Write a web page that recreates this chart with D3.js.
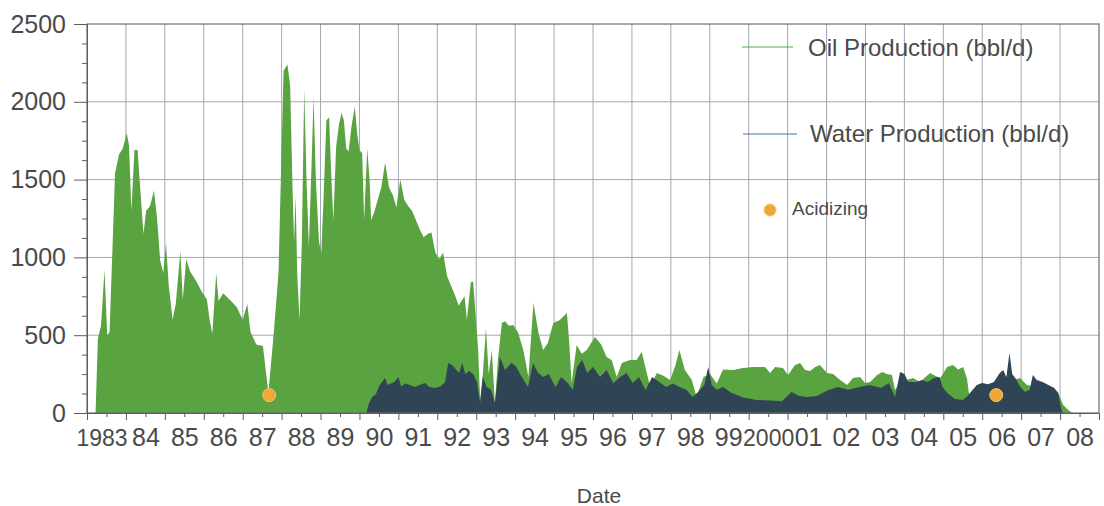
<!DOCTYPE html>
<html>
<head>
<meta charset="utf-8">
<script src="https://cdn.jsdelivr.net/npm/d3@7"></script>
<style>
  html, body { margin: 0; padding: 0; background: #fff; }
  svg { display: block; font-family: "Liberation Sans", Arial, sans-serif; }
</style>
</head>
<body>
<svg id="chart" width="1104" height="506"></svg>
<script>
// Oil rate history (decimal year, bbl/d)
const oilYears = [
  1983.22, 1983.28, 1983.36, 1983.45, 1983.52, 1983.58, 1983.66, 1983.72, 1983.82, 1983.92,
  1984.02, 1984.08, 1984.14, 1984.22, 1984.30, 1984.38, 1984.45, 1984.52, 1984.62, 1984.72,
  1984.80, 1984.88, 1984.96, 1985.03, 1985.10, 1985.20, 1985.28, 1985.40, 1985.46, 1985.55,
  1985.65, 1985.80, 1985.95, 1986.08, 1986.15, 1986.22, 1986.32, 1986.38, 1986.50, 1986.70,
  1986.85, 1987.00, 1987.12, 1987.20, 1987.35, 1987.52, 1987.58, 1987.66, 1987.80, 1987.92,
  1987.98, 1988.05, 1988.15, 1988.22, 1988.28, 1988.32, 1988.36, 1988.40, 1988.46, 1988.52,
  1988.58, 1988.64, 1988.70, 1988.77, 1988.82, 1988.88, 1988.96, 1989.02, 1989.08, 1989.15,
  1989.22, 1989.28, 1989.33, 1989.40, 1989.47, 1989.54, 1989.60, 1989.66, 1989.72, 1989.80,
  1989.88, 1989.94, 1990.00, 1990.07, 1990.12, 1990.20, 1990.26, 1990.30, 1990.38, 1990.48,
  1990.56, 1990.66, 1990.76, 1990.86, 1990.95, 1991.05, 1991.15, 1991.25, 1991.35, 1991.45,
  1991.55, 1991.65, 1991.75, 1991.85, 1991.95, 1992.05, 1992.15, 1992.25, 1992.35, 1992.45,
  1992.55, 1992.62, 1992.70, 1992.76, 1992.86, 1992.92, 1993.05, 1993.10, 1993.17, 1993.25,
  1993.32, 1993.40, 1993.48, 1993.56, 1993.66, 1993.74, 1993.84, 1993.95, 1994.07, 1994.21,
  1994.34, 1994.47, 1994.60, 1994.72, 1994.84, 1994.98, 1995.15, 1995.33, 1995.39, 1995.45,
  1995.58, 1995.71, 1995.84, 1996.05, 1996.21, 1996.35, 1996.48, 1996.61, 1996.74, 1996.95,
  1997.12, 1997.25, 1997.34, 1997.47, 1997.64, 1997.81, 1997.98, 1998.11, 1998.22, 1998.36,
  1998.54, 1998.66, 1998.84, 1999.01, 1999.18, 1999.34, 1999.60, 1999.86, 2000.11, 2000.42,
  2000.55, 2000.68, 2000.88, 2001.01, 2001.19, 2001.32, 2001.45, 2001.58, 2001.71, 2001.83,
  2002.01, 2002.17, 2002.35, 2002.53, 2002.68, 2002.86, 2002.99, 2003.12, 2003.30, 2003.43,
  2003.55, 2003.68, 2003.76, 2003.89, 2004.22, 2004.40, 2004.66, 2004.79, 2004.92, 2005.10,
  2005.25, 2005.38, 2005.51, 2005.61, 2005.69, 2005.82, 2006.20, 2006.59, 2006.79, 2006.97,
  2007.15, 2007.36, 2007.61, 2007.95, 2008.08, 2008.21, 2008.31
];
const oilRates = [
  0, 480, 560, 920, 500, 520, 1100, 1540, 1660, 1700,
  1800, 1720, 1300, 1690, 1690, 1400, 1150, 1300, 1330, 1430,
  1250, 980, 900, 1090, 820, 600, 700, 1040, 730, 990,
  910, 850, 780, 730, 600, 510, 900, 720, 770, 720,
  680, 600, 700, 520, 440, 430, 300, 130, 520, 900,
  1500, 2200, 2240, 2100, 1450, 1100, 1400, 900, 600, 1100,
  2080, 1500, 1070, 1600, 2030, 1500, 1100, 1030, 1400, 1880,
  1900, 1500, 1240, 1710, 1850, 1930, 1880, 1700, 1680, 1850,
  1970, 1800, 1690, 1670, 1240, 1700, 1500, 1240, 1290, 1380,
  1450, 1610, 1450, 1400, 1320, 1500, 1370, 1330, 1300, 1240,
  1180, 1130, 1150, 1160, 1030, 990, 1030, 880, 820, 760,
  690, 720, 750, 600, 840, 845, 405, 84, 250, 546,
  250, 405, 64, 350, 578, 590, 560, 566, 520, 405,
  231, 707, 514, 405, 450, 578, 598, 643, 450, 193,
  437, 380, 405, 488, 440, 360, 340, 231, 321, 341,
  341, 392, 300, 167, 257, 240, 212, 300, 405, 276,
  212, 103, 231, 250, 190, 280, 276, 289, 296, 296,
  257, 296, 289, 244, 308, 321, 276, 270, 296, 308,
  257, 250, 212, 180, 225, 231, 193, 200, 244, 263,
  250, 244, 148, 200, 225, 200, 257, 240, 225, 296,
  308, 280, 296, 220, 64, 120, 130, 150, 212, 225,
  180, 170, 160, 130, 51, 19, 0
];

// Water rate history (decimal year, bbl/d)
const waterYears = [
  1990.18, 1990.24, 1990.33, 1990.42, 1990.50, 1990.58, 1990.66, 1990.72, 1990.80, 1990.90,
  1991.00, 1991.07, 1991.17, 1991.30, 1991.42, 1991.55, 1991.68, 1991.80, 1991.95, 1992.08,
  1992.20, 1992.28, 1992.38, 1992.48, 1992.56, 1992.64, 1992.72, 1992.82, 1992.92, 1993.02,
  1993.10, 1993.17, 1993.27, 1993.38, 1993.48, 1993.61, 1993.74, 1993.90, 1994.02, 1994.17,
  1994.33, 1994.46, 1994.58, 1994.72, 1994.86, 1995.04, 1995.18, 1995.35, 1995.48, 1995.59,
  1995.72, 1995.85, 1996.00, 1996.18, 1996.35, 1996.52, 1996.70, 1996.86, 1997.02, 1997.18,
  1997.35, 1997.52, 1997.70, 1997.88, 1998.05, 1998.22, 1998.40, 1998.56, 1998.72, 1998.86,
  1998.96, 1999.05, 1999.18, 1999.34, 1999.55, 1999.86, 2000.20, 2000.55, 2000.85, 2001.10,
  2001.30, 2001.50, 2001.75, 2002.05, 2002.30, 2002.55, 2002.85, 2003.10, 2003.40, 2003.60,
  2003.76, 2003.89, 2004.00, 2004.10, 2004.30, 2004.45, 2004.60, 2004.76, 2004.90, 2004.98,
  2005.10, 2005.30, 2005.50, 2005.62, 2005.75, 2005.86, 2006.00, 2006.15, 2006.30, 2006.45,
  2006.54, 2006.62, 2006.70, 2006.77, 2006.85, 2006.97, 2007.10, 2007.22, 2007.30, 2007.40,
  2007.55, 2007.70, 2007.85, 2007.95, 2008.02, 2008.06
];
const waterRates = [
  0, 60, 105, 120, 170, 200, 225, 180, 190, 200,
  231, 170, 190, 180, 167, 180, 193, 167, 160, 170,
  200, 321, 308, 280, 257, 321, 250, 270, 250, 200,
  64, 231, 167, 150, 64, 360, 276, 321, 300, 231,
  167, 321, 260, 231, 250, 167, 231, 193, 150, 296,
  341, 257, 296, 231, 276, 193, 231, 257, 193, 231,
  148, 231, 200, 167, 190, 167, 150, 103, 140, 180,
  296, 180, 150, 167, 130, 100, 84, 80, 75, 135,
  110, 103, 110, 148, 167, 150, 167, 180, 160, 193,
  103, 263, 250, 199, 200, 212, 200, 225, 231, 167,
  129, 90, 84, 110, 148, 180, 193, 185, 200, 257,
  276, 230, 386, 250, 225, 170, 135, 150, 244, 212,
  200, 180, 160, 130, 38, 0
];

// Acidizing treatments
const acidYears = [1987.68, 2006.36];
const acidRates = [115, 115];

// Axis ticks and labels
const yearTicks = d3.range(1983, 2010);
const yearLabels = ["1983", "84", "85", "86", "87", "88", "89", "90", "91", "92", "93", "94", "95",
  "96", "97", "98", "99", "2000", "01", "02", "03", "04", "05", "06", "07", "08"];
const rateTicks = [0, 500, 1000, 1500, 2000, 2500];
const legendLabels = ["Oil Production (bbl/d)", "Water Production (bbl/d)", "Acidizing"];

const oilColor = "#5aa341";
const waterColor = "#2f4454";
const acidColor = "#f2a634";
const gridColor = "#a2a7b0";
const textColor = "#4a4a4a";

const plotLeft = 87, plotRight = 1099, plotTop = 24, plotBottom = 413;
const svg = d3.select("#chart");

const x = d3.scaleLinear().domain([1983, 2009]).range([plotLeft, plotRight]);
const y = d3.scaleLinear().domain([0, 2500]).range([plotBottom, plotTop]);

// grid
const grid = svg.append("g");
grid.selectAll("line.v").data(yearTicks.slice(1, -1)).join("line")
  .attr("class", "v")
  .attr("x1", d => x(d)).attr("x2", d => x(d))
  .attr("y1", plotTop).attr("y2", plotBottom)
  .attr("stroke", gridColor).attr("stroke-width", 1);
grid.selectAll("line.h").data(rateTicks.slice(1, -1)).join("line")
  .attr("class", "h")
  .attr("x1", plotLeft).attr("x2", plotRight)
  .attr("y1", d => y(d)).attr("y2", d => y(d))
  .attr("stroke", gridColor).attr("stroke-width", 1);

// production areas: oil underneath, water overlaid
const oil = oilYears.map((t, i) => ({ t, v: oilRates[i] }));
const water = waterYears.map((t, i) => ({ t, v: waterRates[i] }));
const area = d3.area().x(d => x(d.t)).y0(y(0)).y1(d => y(d.v));

svg.append("path").datum(oil).attr("d", area).attr("fill", oilColor);
svg.append("path").datum(water).attr("d", area).attr("fill", waterColor);

// frame
svg.append("rect")
  .attr("x", plotLeft).attr("y", plotTop)
  .attr("width", plotRight - plotLeft).attr("height", plotBottom - plotTop)
  .attr("fill", "none").attr("stroke", "#6b6e73").attr("stroke-width", 1.2);

// acidizing markers
svg.selectAll("circle.acid").data(acidYears).join("circle")
  .attr("class", "acid")
  .attr("cx", d => x(d)).attr("cy", (d, i) => y(acidRates[i]))
  .attr("r", 6.5).attr("fill", acidColor).attr("stroke", "#f7c56f").attr("stroke-width", 1);

// y axis
const yAxis = svg.append("g").attr("transform", `translate(${plotLeft},0)`)
  .call(d3.axisLeft(y).tickValues(rateTicks).tickSize(13).tickPadding(8).tickFormat(d3.format("d")));
const yMinor = svg.append("g").attr("transform", `translate(${plotLeft},0)`)
  .call(d3.axisLeft(y).tickValues(d3.range(0, 2501, 125).filter(v => v % 500 !== 0))
    .tickSize(5).tickFormat(""));

// x axis: year ticks, half-year ticks, labels centred on each year
const xAxis = svg.append("g").attr("transform", `translate(0,${plotBottom})`)
  .call(d3.axisBottom(x).tickValues(yearTicks.slice(0, -1)).tickSize(7).tickFormat(""));
const xMinor = svg.append("g").attr("transform", `translate(0,${plotBottom})`)
  .call(d3.axisBottom(x).tickValues(yearTicks.slice(0, -1).map(v => v + 0.5)).tickSize(4).tickFormat(""));
const xLabels = svg.append("g").attr("transform", `translate(0,${plotBottom})`)
  .call(d3.axisBottom(x).tickValues(yearLabels.map((_, i) => 1983.5 + i))
    .tickSize(0).tickPadding(15).tickFormat((d, i) => yearLabels[i]));
xLabels.select(".domain").remove();
xMinor.select(".domain").remove();
yMinor.select(".domain").remove();

[yAxis, yMinor, xAxis, xMinor, xLabels].forEach(g => {
  g.selectAll("line").attr("stroke", "#5a5d62");
  g.selectAll("path.domain").attr("stroke", "#5a5d62");
  g.selectAll("text").attr("fill", textColor).attr("font-size", 25)
    .attr("font-family", "'Liberation Sans', Arial, sans-serif");
});
// four-digit year labels are set a touch smaller and their neighbours nudged so nothing collides
const labelNudge = { "1983": -5, "99": -1, "01": 1 };
xLabels.selectAll("text")
  .attr("dx", function () { return labelNudge[this.textContent] || 0; })
  .filter(function () { return this.textContent.length === 4; })
  .attr("font-size", 23).attr("dy", "17.75px");

// axis title
svg.append("text").attr("x", 599).attr("y", 503)
  .attr("text-anchor", "middle").attr("font-size", 21).attr("fill", textColor)
  .text("Date");

// legend
const legend = svg.append("g");
legend.append("line").attr("x1", 742).attr("x2", 793).attr("y1", 47).attr("y2", 47)
  .attr("stroke", "#4fae4a").attr("stroke-width", 1.2);
legend.append("text").attr("x", 808).attr("y", 56)
  .attr("font-size", 24).attr("fill", textColor).text(legendLabels[0]);
legend.append("line").attr("x1", 743).attr("x2", 797).attr("y1", 134).attr("y2", 134)
  .attr("stroke", "#4a72a8").attr("stroke-width", 1.2);
legend.append("text").attr("x", 810).attr("y", 142)
  .attr("font-size", 24).attr("fill", textColor).text(legendLabels[1]);
legend.append("circle").attr("cx", 770).attr("cy", 210).attr("r", 6)
  .attr("fill", acidColor).attr("stroke", "#f7c56f");
legend.append("text").attr("x", 792).attr("y", 215)
  .attr("font-size", 19).attr("fill", textColor).text(legendLabels[2]);
</script>
</body>
</html>
